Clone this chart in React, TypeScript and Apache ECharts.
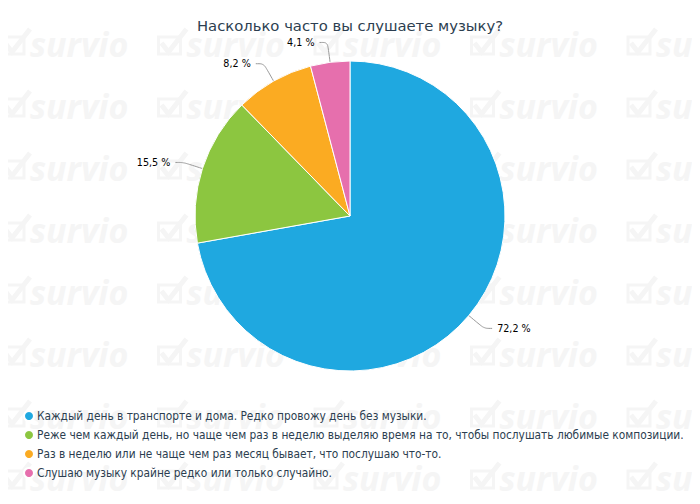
import React, { useEffect, useRef } from "react";
import * as echarts from "echarts";

const titleText = "Насколько часто вы слушаете музыку?";
const categories = [
  "Каждый день в транспорте и дома. Редко провожу день без музыки.",
  "Реже чем каждый день, но чаще чем раз в неделю выделяю время на то, чтобы послушать любимые композиции.",
  "Раз в неделю или не чаще чем раз месяц бывает, что послушаю что-то.",
  "Слушаю музыку крайне редко или только случайно.",
];
const values = [72.2, 15.5, 8.2, 4.1];
const colors = ["#1fa8e0", "#8cc640", "#fbab22", "#e66fad"];

function watermarkImage(): string {
  const wm = "#f5f5f5";
  let body = "";
  for (let r = 0; r < 8; r++) {
    for (let c = 0; c < 5; c++) {
      const x = c * 156.5;
      const y = 45 + r * 62;
      body +=
        `<g transform="translate(${x},${y})">` +
        `<rect x="2" y="-8" width="22" height="17" fill="none" stroke="${wm}" stroke-width="3"/>` +
        `<polyline points="5,-2 12,7 30,-16" fill="none" stroke="${wm}" stroke-width="5"/>` +
        `<text x="30" y="12" fill="${wm}" font-size="34" font-weight="bold" font-style="italic" font-family="Open Sans">survio</text>` +
        `</g>`;
    }
  }
  const svg = `<svg xmlns="http://www.w3.org/2000/svg" width="700" height="504">${body}</svg>`;
  return "data:image/svg+xml;charset=utf-8," + encodeURIComponent(svg);
}

export default function App() {
  const ref = useRef<HTMLDivElement>(null);
  useEffect(() => {
    if (!ref.current) return;
    const chart = echarts.init(ref.current, undefined, { renderer: "svg" });
    chart.setOption({
      animation: false,
      backgroundColor: "#ffffff",
      graphic: [
        {
          type: "image",
          left: 0,
          top: 0,
          z: -10,
          silent: true,
          style: { image: watermarkImage(), width: 700, height: 504 },
        },
      ],
      title: {
        text: titleText,
        left: "center",
        top: 13,
        textStyle: {
          fontFamily: "DejaVu Sans",
          fontSize: 14.8,
          fontWeight: "normal",
          color: "#2c3e50",
        },
      },
      legend: {
        orient: "vertical",
        left: 18,
        top: 405,
        icon: "circle",
        itemWidth: 10,
        itemHeight: 10,
        itemGap: 7,
        selectedMode: false,
        textStyle: {
          fontFamily: "DejaVu Sans Condensed",
          fontSize: 11.8,
          color: "#2c3e50",
          padding: [0, 0, 0, -2],
        },
        data: categories,
      },
      series: [
        {
          type: "pie",
          center: [350, 216],
          radius: 155,
          startAngle: 90,
          clockwise: true,
          color: colors,
          itemStyle: { borderColor: "#ffffff", borderWidth: 1 },
          label: {
            show: true,
            fontFamily: "DejaVu Sans",
            fontSize: 9.6,
            color: "#000000",
            formatter: (p: any) => String(p.value).replace(".", ",") + " %",
          },
          labelLine: {
            show: true,
            length: 20,
            length2: 8,
            smooth: true,
            lineStyle: { color: "#999999", width: 1 },
          },
          emphasis: { disabled: true },
          data: categories.map((name, i) => ({ name, value: values[i] })),
        },
      ],
    });
    return () => chart.dispose();
  }, []);
  return <div ref={ref} style={{ width: 700, height: 504, margin: -8 }} />;
}
